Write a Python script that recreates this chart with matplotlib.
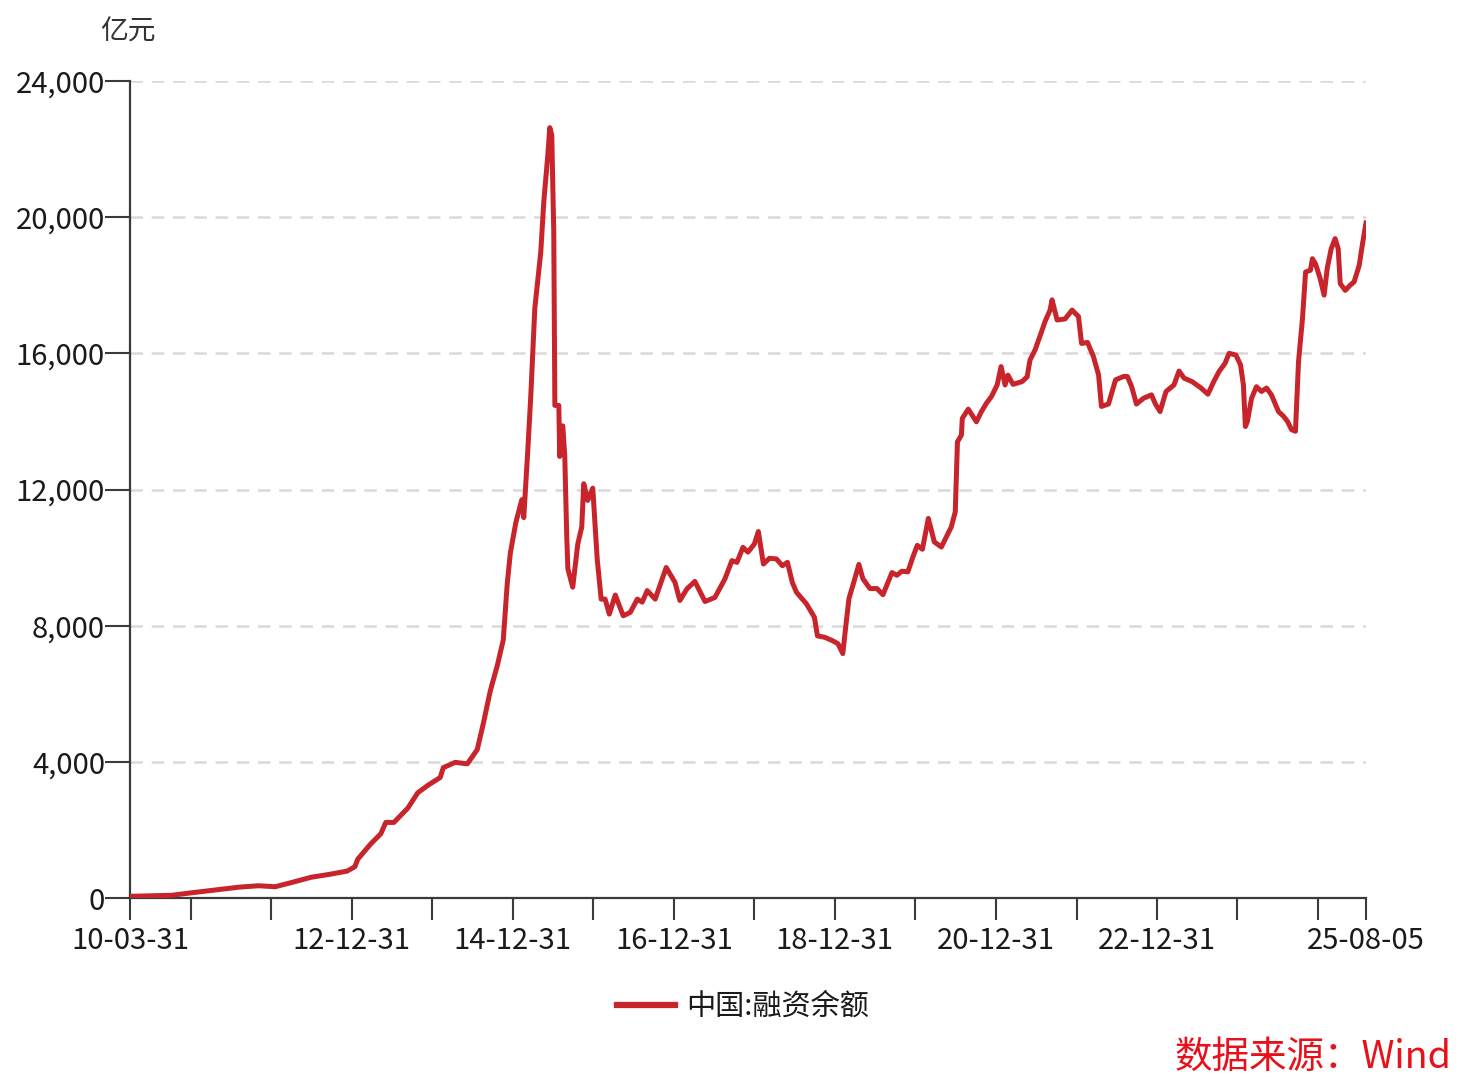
import numpy as np
import pandas as pd
import matplotlib
matplotlib.use("Agg")
from matplotlib import pyplot as plt
from matplotlib.ticker import FuncFormatter

plt.rcParams['font.family'] = ['Noto Sans CJK SC', 'DejaVu Sans']

# 中国:融资余额 (亿元)
dates = [
    "2010-03-31", "2010-10-07", "2010-12-31", "2011-04-23", "2011-08-10", "2011-11-05",
    "2012-01-18", "2012-04-05", "2012-06-30", "2012-09-25", "2012-12-10", "2013-01-14",
    "2013-01-27", "2013-03-27", "2013-05-12", "2013-06-03", "2013-07-10", "2013-09-11",
    "2013-10-26", "2013-12-11", "2014-02-05", "2014-02-19", "2014-04-14", "2014-06-08",
    "2014-07-23", "2014-08-19", "2014-09-20", "2014-10-22", "2014-11-18", "2014-12-06",
    "2014-12-20", "2015-01-14", "2015-02-10", "2015-02-19", "2015-03-09", "2015-03-23",
    "2015-04-10", "2015-05-07", "2015-05-21", "2015-06-08", "2015-06-17", "2015-06-26",
    "2015-07-05", "2015-07-10", "2015-07-28", "2015-08-01", "2015-08-15", "2015-08-24",
    "2015-09-02", "2015-09-07", "2015-09-29", "2015-10-22", "2015-11-09", "2015-11-18",
    "2015-12-06", "2015-12-29", "2016-01-18", "2016-02-05", "2016-02-23", "2016-03-13",
    "2016-04-09", "2016-05-15", "2016-06-16", "2016-07-18", "2016-08-09", "2016-09-01",
    "2016-10-07", "2016-11-26", "2017-01-05", "2017-01-27", "2017-02-28", "2017-04-05",
    "2017-05-21", "2017-07-05", "2017-08-19", "2017-09-20", "2017-10-13", "2017-11-09",
    "2017-12-02", "2017-12-31", "2018-01-18", "2018-02-10", "2018-03-09", "2018-04-10",
    "2018-05-07", "2018-05-30", "2018-06-21", "2018-07-10", "2018-08-24", "2018-09-29",
    "2018-10-13", "2018-11-14", "2018-12-20", "2019-01-14", "2019-02-05", "2019-02-19",
    "2019-03-05", "2019-03-23", "2019-04-19", "2019-05-07", "2019-06-08", "2019-07-10",
    "2019-08-06", "2019-09-16", "2019-10-08", "2019-10-31", "2019-11-27", "2019-12-20",
    "2020-01-09", "2020-02-01", "2020-02-28", "2020-03-26", "2020-04-27", "2020-05-20",
    "2020-06-11", "2020-06-29", "2020-07-09", "2020-07-27", "2020-07-31", "2020-08-27",
    "2020-10-03", "2020-10-25", "2020-11-17", "2020-12-10", "2021-01-05", "2021-01-23",
    "2021-02-10", "2021-02-23", "2021-03-18", "2021-04-28", "2021-05-21", "2021-06-03",
    "2021-06-26", "2021-07-23", "2021-08-10", "2021-09-02", "2021-09-11", "2021-10-04",
    "2021-11-09", "2021-12-11", "2022-01-09", "2022-01-23", "2022-02-19", "2022-03-18",
    "2022-04-10", "2022-04-23", "2022-05-25", "2022-06-26", "2022-08-01", "2022-08-19",
    "2022-09-07", "2022-09-29", "2022-10-31", "2022-12-06", "2022-12-24", "2023-01-14",
    "2023-02-10", "2023-03-18", "2023-04-10", "2023-05-03", "2023-06-08", "2023-07-19",
    "2023-08-19", "2023-09-16", "2023-10-08", "2023-11-05", "2023-11-23", "2023-12-24",
    "2024-01-14", "2024-01-27", "2024-02-05", "2024-02-14", "2024-03-04", "2024-03-26",
    "2024-04-18", "2024-05-11", "2024-06-02", "2024-07-04", "2024-07-27", "2024-08-14",
    "2024-09-01", "2024-09-19", "2024-10-03", "2024-10-21", "2024-11-04", "2024-11-26",
    "2024-12-05", "2024-12-19", "2025-01-09", "2025-01-27", "2025-02-10", "2025-02-28",
    "2025-03-18", "2025-04-01", "2025-04-10", "2025-05-03", "2025-05-25", "2025-06-12",
    "2025-07-05", "2025-07-19", "2025-08-05",
]
balance = [
    50, 80, 150, 235, 320, 360,
    330, 460, 610, 700, 790, 920,
    1140, 1590, 1890, 2220, 2220, 2640,
    3090, 3310, 3540, 3830, 3985, 3940,
    4360, 5110, 6080, 6830, 7580, 9230,
    10130, 11030, 11700, 11175, 13120, 14770,
    17320, 18970, 20470, 21820, 22630, 22410,
    19580, 14470, 14470, 12970, 13870, 12970,
    10600, 9670, 9130, 10400, 10900, 12170,
    11680, 12040, 9960, 8780, 8780, 8340,
    8900, 8290, 8390, 8780, 8690, 9030,
    8780, 9710, 9270, 8740, 9080, 9300,
    8710, 8830, 9370, 9910, 9860, 10300,
    10160, 10400, 10765, 9810, 9980, 9960,
    9760, 9860, 9270, 8980, 8640, 8250,
    7700, 7660, 7560, 7470, 7180, 8010,
    8800, 9190, 9800, 9380, 9090, 9090,
    8910, 9560, 9480, 9600, 9580, 10020,
    10360, 10245, 11150, 10460, 10310, 10610,
    10900, 11340, 13400, 13600, 14090, 14360,
    13990, 14280, 14530, 14730, 15070, 15610,
    15070, 15360, 15090, 15170, 15310, 15800,
    16100, 16590, 16930, 17270, 17570, 16980,
    17010, 17270, 17080, 16290, 16320, 15900,
    15370, 14440, 14510, 15220, 15320, 15320,
    15020, 14510, 14680, 14780, 14510, 14290,
    14880, 15070, 15480, 15270, 15170, 14980,
    14800, 15190, 15460, 15710, 16000, 15950,
    15660, 15070, 13850, 14000, 14680, 15020,
    14880, 14980, 14780, 14290, 14150, 14000,
    13760, 13710, 15760, 17030, 18390, 18440,
    18780, 18630, 18200, 17710, 18490, 19070,
    19370, 19070, 18050, 17850, 18000, 18100,
    18580, 19170, 19830,
]

tick_dates = ["2010-03-31", "2010-12-31", "2011-12-31", "2012-12-31", "2013-12-31",
              "2014-12-31", "2015-12-31", "2016-12-31", "2017-12-31", "2018-12-31",
              "2019-12-31", "2020-12-31", "2021-12-31", "2022-12-31", "2023-12-31",
              "2024-12-31", "2025-08-05"]
tick_labels = ["10-03-31", "", "", "12-12-31", "", "14-12-31", "", "16-12-31", "",
               "18-12-31", "", "20-12-31", "", "22-12-31", "", "", "25-08-05"]
y_ticks = [0, 4000, 8000, 12000, 16000, 20000, 24000]

x = pd.to_datetime(dates)
line_red = '#C8242B'
axis_col = '#3a3a3a'

fig = plt.figure(figsize=(14.81, 10.80), dpi=100)
ax = fig.add_axes([130 / 1481, 1 - 898 / 1080, (1366 - 130) / 1481, (898 - 81) / 1080])

ax.plot(x, balance, color=line_red, lw=3.6, label='中国:融资余额', zorder=3,
        solid_joinstyle='round')

ax.set_xlim(pd.Timestamp(tick_dates[0]), pd.Timestamp(tick_dates[-1]))
ax.set_ylim(0, 24000)
ax.set_xticks(pd.to_datetime(tick_dates))
ax.set_xticklabels(tick_labels)
ax.set_yticks(y_ticks)
ax.yaxis.set_major_formatter(FuncFormatter(lambda v, p: f"{int(v):,}"))

for v in y_ticks[1:]:
    ax.axhline(v, color='#d9d9d9', lw=1.8, ls=(0, (5, 3.5)), zorder=1)

for s in ['top', 'right']:
    ax.spines[s].set_visible(False)
for s in ['left', 'bottom']:
    ax.spines[s].set_color(axis_col)
    ax.spines[s].set_linewidth(1.6)

ax.tick_params(axis='x', direction='out', length=16, width=1.5, color=axis_col,
               labelsize=21, labelcolor='#1a1a1a', pad=4)
ax.tick_params(axis='y', direction='out', length=18, width=1.5, color=axis_col,
               labelsize=21, labelcolor='#1a1a1a', pad=0)

fig.text(100 / 1481, 1 - 32 / 1080, '亿元', fontsize=20, color='#333333',
         ha='left', va='center')

ax.legend(loc='center', bbox_to_anchor=(743 / 1481, 1 - 1007 / 1080),
          bbox_transform=fig.transFigure, frameon=False, fontsize=21,
          handlelength=2.0, handletextpad=0.4, labelcolor='#1a1a1a')
leg_line = ax.get_legend().get_lines()[0]
leg_line.set_linewidth(4.5)

fig.text(1452 / 1481, 1 - 1057 / 1080, '数据来源：Wind', fontsize=27, color='#E8101A',
         ha='right', va='center')

fig.savefig('out.png', dpi=100, facecolor='white')
